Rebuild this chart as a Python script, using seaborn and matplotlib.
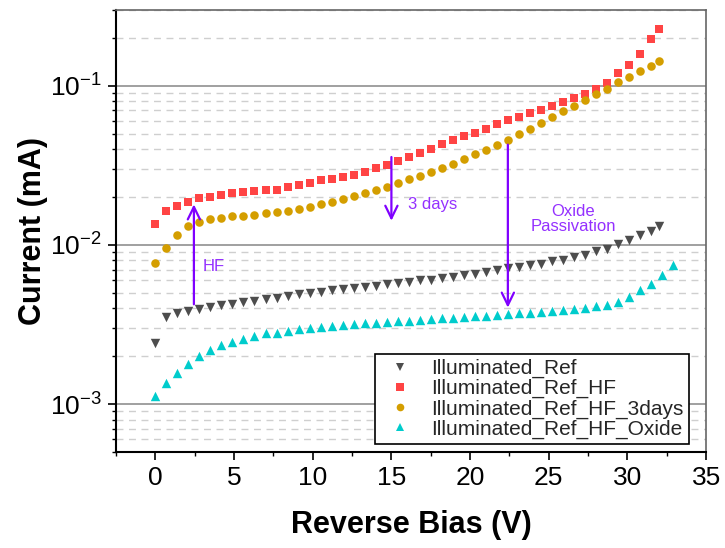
import numpy as np
import pandas as pd
import matplotlib
matplotlib.use("Agg")
import matplotlib.pyplot as plt
import seaborn as sns
from matplotlib.ticker import MultipleLocator, FixedLocator, LogLocator, FuncFormatter, NullFormatter
from matplotlib.lines import Line2D

# ---------------- data ----------------
bias = [0.0, 0.7, 1.4, 2.1, 2.8, 3.5, 4.2, 4.9, 5.6, 6.3, 7.0, 7.7, 8.4, 9.1, 9.8,
        10.5, 11.2, 11.9, 12.6, 13.3, 14.0, 14.7, 15.4, 16.1, 16.8, 17.5, 18.2, 18.9,
        19.6, 20.3, 21.0, 21.7, 22.4, 23.1, 23.8, 24.5, 25.2, 25.9, 26.6, 27.3, 28.0,
        28.7, 29.4, 30.1, 30.8, 31.5, 32.0]
bias_oxide = [0.0, 0.7, 1.4, 2.1, 2.8, 3.5, 4.2, 4.9, 5.6, 6.3, 7.0, 7.7, 8.4, 9.1, 9.8,
              10.5, 11.2, 11.9, 12.6, 13.3, 14.0, 14.7, 15.4, 16.1, 16.8, 17.5, 18.2, 18.9,
              19.6, 20.3, 21.0, 21.7, 22.4, 23.1, 23.8, 24.5, 25.2, 25.9, 26.6, 27.3, 28.0,
              28.7, 29.4, 30.1, 30.8, 31.5, 32.2, 32.9]

ref = [0.00241, 0.00355, 0.00376, 0.00385, 0.00398, 0.00410, 0.00418, 0.00428, 0.00436,
       0.00444, 0.00455, 0.00464, 0.00478, 0.00489, 0.00497, 0.00509, 0.00521, 0.00530,
       0.00539, 0.00547, 0.00551, 0.00566, 0.00574, 0.00585, 0.00599, 0.00606, 0.00619,
       0.00632, 0.00644, 0.00658, 0.00673, 0.00694, 0.00715, 0.00728, 0.00744, 0.00755,
       0.00791, 0.00808, 0.00835, 0.00862, 0.00915, 0.00947, 0.0102, 0.0107, 0.0116,
       0.0122, 0.0131]
ref_hf = [0.0136, 0.0163, 0.0175, 0.0186, 0.0196, 0.0200, 0.0206, 0.0213, 0.0216, 0.0219,
          0.0221, 0.0223, 0.0233, 0.0237, 0.0246, 0.0255, 0.0258, 0.0268, 0.0277, 0.0287,
          0.0303, 0.0316, 0.0335, 0.0357, 0.0381, 0.0402, 0.0428, 0.0454, 0.0481, 0.0503,
          0.0538, 0.0578, 0.0612, 0.0638, 0.0674, 0.0700, 0.0749, 0.0790, 0.0837, 0.0888,
          0.0960, 0.104, 0.120, 0.135, 0.158, 0.196, 0.228]
ref_hf_3days = [0.00771, 0.00954, 0.0116, 0.0131, 0.0139, 0.0146, 0.0148, 0.0152, 0.0153,
                0.0155, 0.0158, 0.0161, 0.0164, 0.0168, 0.0174, 0.0180, 0.0187, 0.0195,
                0.0204, 0.0212, 0.0222, 0.0232, 0.0246, 0.0258, 0.0271, 0.0286, 0.0303,
                0.0324, 0.0345, 0.0373, 0.0397, 0.0427, 0.0459, 0.0499, 0.0535, 0.0584,
                0.0637, 0.0694, 0.0751, 0.0817, 0.0891, 0.0956, 0.105, 0.114, 0.124,
                0.134, 0.144]
ref_hf_oxide = [0.00112, 0.00135, 0.00158, 0.00179, 0.00202, 0.00219, 0.00235, 0.00247,
                0.00258, 0.00269, 0.00278, 0.00282, 0.00288, 0.00295, 0.00302, 0.00305,
                0.00309, 0.00314, 0.00317, 0.00322, 0.00325, 0.00330, 0.00333, 0.00335,
                0.00340, 0.00343, 0.00346, 0.00348, 0.00351, 0.00356, 0.00360, 0.00364,
                0.00368, 0.00372, 0.00376, 0.00379, 0.00384, 0.00389, 0.00394, 0.00404,
                0.00412, 0.00422, 0.00439, 0.00469, 0.00519, 0.00566, 0.00644, 0.00744]

labels = ["Illuminated_Ref", "Illuminated_Ref_HF", "Illuminated_Ref_HF_3days",
          "Illuminated_Ref_HF_Oxide"]
x_ticks = [0, 5, 10, 15, 20, 25, 30, 35]
y_ticks = [1e-3, 1e-2, 1e-1]

# ---------------- style ----------------
colors = ["#4D4D4D", "#FF4444", "#D49E00", "#00CCCC"]
markers = ["v", "s", "o", "^"]
msizes = [46, 32, 38, 46]
arrow_c = "#8000FF"
text_c = "#9430FF"

sns.set_theme(style="ticks")
plt.rcParams["font.family"] = ["Liberation Sans", "DejaVu Sans"]
plt.rcParams["mathtext.fontset"] = "custom"
plt.rcParams["mathtext.rm"] = "Liberation Sans"
plt.rcParams["mathtext.it"] = "Liberation Sans:italic"
plt.rcParams["mathtext.bf"] = "Liberation Sans:bold"

df = pd.concat([
    pd.DataFrame({"bias": bias, "current": ref, "series": labels[0]}),
    pd.DataFrame({"bias": bias, "current": ref_hf, "series": labels[1]}),
    pd.DataFrame({"bias": bias, "current": ref_hf_3days, "series": labels[2]}),
    pd.DataFrame({"bias": bias_oxide, "current": ref_hf_oxide, "series": labels[3]}),
], ignore_index=True)

fig, ax = plt.subplots(figsize=(7.25, 5.48), dpi=100)
fig.subplots_adjust(left=0.160, right=0.974, top=0.982, bottom=0.175)

for lab, c, m, s in zip(labels, colors, markers, msizes):
    sub = df[df["series"] == lab]
    sns.scatterplot(data=sub, x="bias", y="current", ax=ax, marker=m, color=c,
                    s=s, linewidth=0, legend=False, zorder=3)

ax.set_yscale("log")
ax.set_xlim(-2.5, 35)
ax.set_ylim(5e-4, 0.3)

ax.xaxis.set_major_locator(FixedLocator(x_ticks))
ax.xaxis.set_minor_locator(MultipleLocator(2.5))
ax.yaxis.set_major_locator(FixedLocator(y_ticks))
ax.yaxis.set_minor_locator(LogLocator(base=10, subs=np.arange(2, 10), numticks=30))
ax.yaxis.set_major_formatter(FuncFormatter(
    lambda v, p: r"$\mathregular{10^{%d}}$" % int(round(np.log10(v)))))
ax.yaxis.set_minor_formatter(NullFormatter())

ax.yaxis.grid(True, which="major", color="#999999", lw=1.3, ls="-")
ax.yaxis.grid(True, which="minor", color="#CFCFCF", lw=1.0, ls=(0, (5, 4)))
ax.xaxis.grid(False)
ax.set_axisbelow(True)

ax.tick_params(axis="both", which="major", direction="out", length=6, width=1.2,
               labelsize=19, pad=4, color="black", labelcolor="black")
ax.tick_params(axis="both", which="minor", direction="out", length=3, width=1.0,
               color="black")
ax.tick_params(top=False, right=False, which="both")

for s in ["left", "bottom"]:
    ax.spines[s].set_color("black")
    ax.spines[s].set_linewidth(1.5)
for s in ["top", "right"]:
    ax.spines[s].set_color("#666666")
    ax.spines[s].set_linewidth(1.2)

ax.set_xlabel("Reverse Bias (V)", fontsize=22, fontweight="bold", color="black")
ax.set_ylabel("Current (mA)", fontsize=22, fontweight="bold", color="black")
ax.xaxis.set_label_coords(0.5, -0.13)
ax.yaxis.set_label_coords(-0.116, 0.5)

# annotations
arrow_kw = dict(arrowstyle="->,head_length=0.45,head_width=0.22", color=arrow_c,
                lw=1.6, mutation_scale=20, shrinkA=0, shrinkB=0)
ax.annotate("", xy=(2.45, 0.0180), xytext=(2.45, 0.00424), arrowprops=arrow_kw, zorder=4)
ax.annotate("", xy=(15.0, 0.0142), xytext=(15.0, 0.0357), arrowprops=arrow_kw, zorder=4)
ax.annotate("", xy=(22.4, 0.00404), xytext=(22.4, 0.0427), arrowprops=arrow_kw, zorder=4)
ax.text(3.0, 0.00733, "HF", color=text_c, fontsize=12, ha="left", va="center")
ax.text(16.07, 0.0180, "3 days", color=text_c, fontsize=12, ha="left", va="center")
ax.text(26.56, 0.0145, "Oxide\nPassivation", color=text_c, fontsize=12, ha="center",
        va="center", linespacing=1.0)

handles = [Line2D([], [], ls="none", marker=m, color=c, markersize=5.5, markeredgewidth=0)
           for c, m in zip(colors, markers)]
leg = ax.legend(handles, labels, loc="lower right", bbox_to_anchor=(0.971, 0.018),
                borderaxespad=0, fontsize=15, frameon=True, fancybox=False,
                edgecolor="black", framealpha=1, handlelength=1.9, handletextpad=0.55,
                labelspacing=0.05, borderpad=0.25, numpoints=1)
leg.get_frame().set_linewidth(1.2)
leg.set_zorder(5)

fig.savefig("out.png", dpi=100)
